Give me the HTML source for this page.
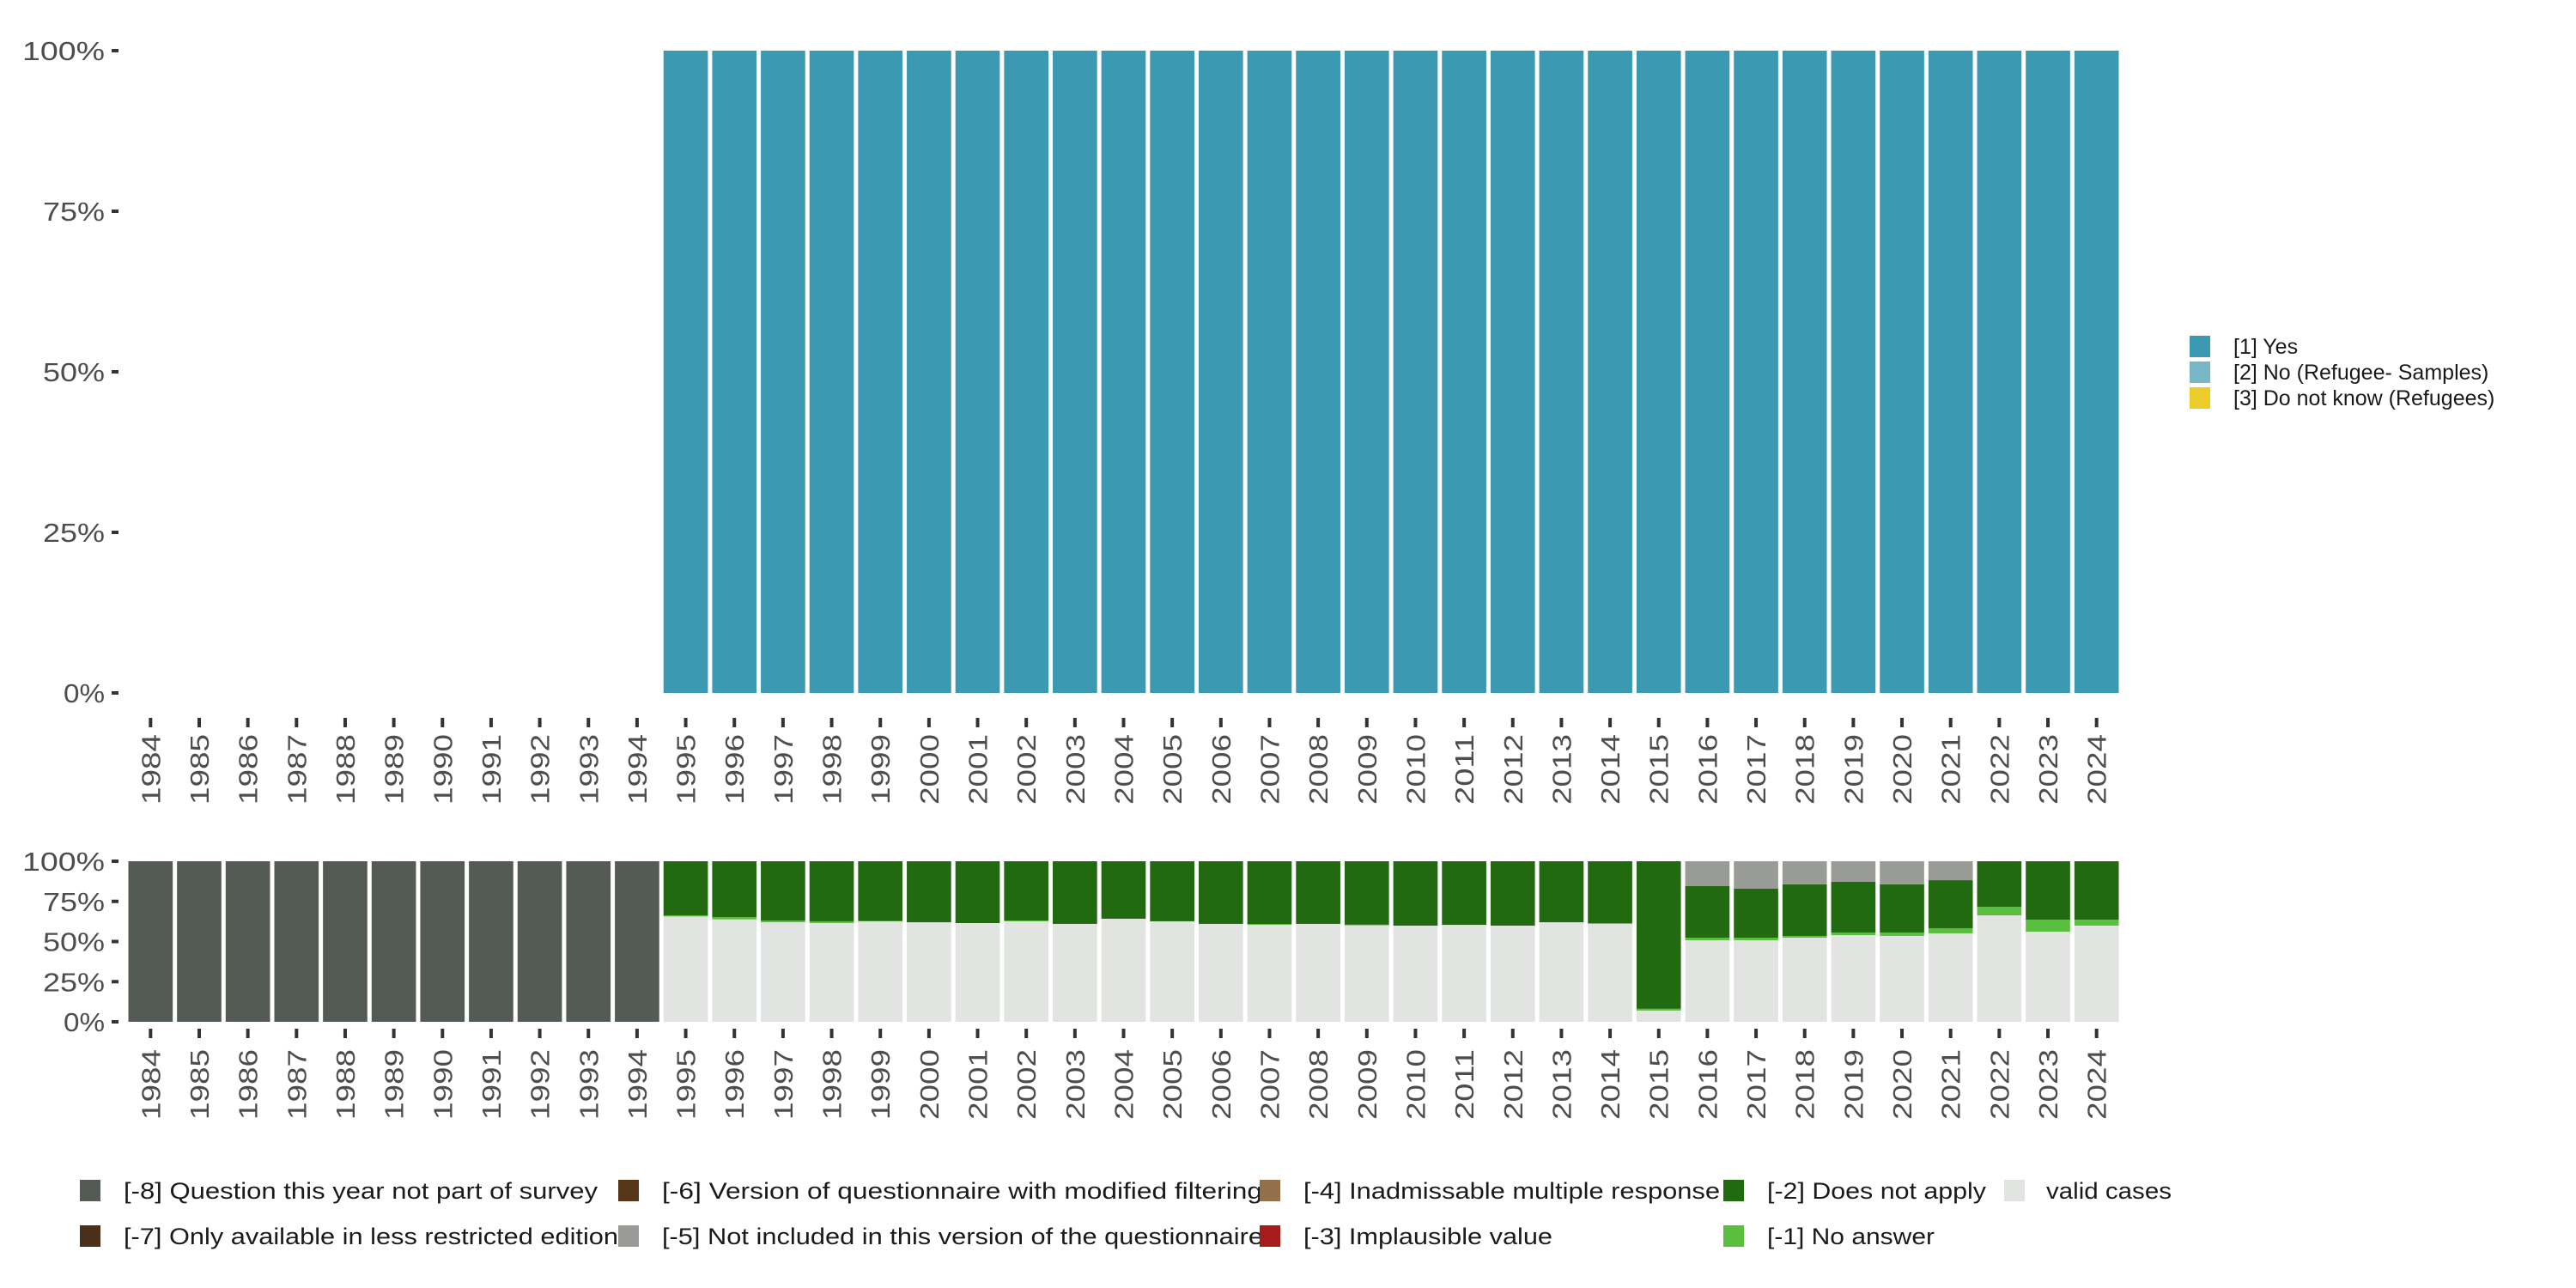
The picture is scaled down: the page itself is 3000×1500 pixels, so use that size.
<!DOCTYPE html>
<html><head><meta charset="utf-8"><style>
html,body{margin:0;padding:0;background:#fff;}
svg{display:block;font-family:"Liberation Sans","DejaVu Sans",sans-serif;}
</style></head><body>
<svg id="chart" width="3000" height="1500" viewBox="0 0 3000 1500" xmlns="http://www.w3.org/2000/svg">
<g id="top"></g>
<g id="bot"></g>
<g id="legR"></g>
<g id="legB"></g>
</svg>
<script>
const years = [];
for (let y = 1984; y <= 2024; y++) years.push(String(y));
const topYes = [0,0,0,0,0,0,0,0,0,0,0,100,100,100,100,100,100,100,100,100,100,100,100,100,100,100,100,100,100,100,100,100,100,100,100,100,100,100,100,100,100];
const topNo = [0,0,0,0,0,0,0,0,0,0,0,0,0,0,0,0,0,0,0,0,0,0,0,0,0,0,0,0,0,0,0,0,0,0,0,0,0,0,0,0,0];
const topDk = [0,0,0,0,0,0,0,0,0,0,0,0,0,0,0,0,0,0,0,0,0,0,0,0,0,0,0,0,0,0,0,0,0,0,0,0,0,0,0,0,0];
const valid = [0,0,0,0,0,0,0,0,0,0,0,65.6,63.8,62.0,61.5,62.6,62.0,61.5,62.6,61.0,64.2,62.6,61.0,60.4,61.0,60.1,59.9,60.4,59.9,62.0,61.0,7.0,50.8,50.8,52.4,54.0,53.5,55.1,66.3,56.1,59.9];
const noAnswer = [0,0,0,0,0,0,0,0,0,0,0,0.7,1.4,1.1,1.1,0.2,0,0,0.5,0,0,0,0,0.5,0,0.4,0,0,0,0,0.5,1.1,1.6,1.6,1.1,1.6,2.1,3.2,5.3,7.5,3.7];
const notInc = [0,0,0,0,0,0,0,0,0,0,0,0,0,0,0,0,0,0,0,0,0,0,0,0,0,0,0,0,0,0,0,0,15.5,17.1,14.4,12.8,14.4,11.8,0,0,0];
const notPart = [100,100,100,100,100,100,100,100,100,100,100,0,0,0,0,0,0,0,0,0,0,0,0,0,0,0,0,0,0,0,0,0,0,0,0,0,0,0,0,0,0];
const yTicks = [0,25,50,75,100];
const NS = "http://www.w3.org/2000/svg";
function mk(parent, tag, attrs, text) {
  const e = document.createElementNS(NS, tag);
  for (const k in attrs) e.setAttribute(k, attrs[k]);
  if (text !== undefined) e.textContent = text;
  parent.appendChild(e);
  return e;
}
const X0 = 147, X1 = 2470, band = (X1 - X0) / years.length, gap = 5;
function xs(i) { return X0 + i * band; }
function makeY(top, bottom) { return v => bottom - (bottom - top) * v / 100; }

function panel(g, top, bottom, series, colors, names, tickY, lblY) {
  const y = makeY(top, bottom);
  years.forEach((yr, i) => {
    let acc = 0;
    series.forEach((s, k) => {
      const v = s[i];
      if (v <= 0) return;
      let y1 = y(acc), y2 = y(acc + v);
      if (k === series.length - 1 && acc + v > 99) y2 = y(100);
      const r = mk(g, 'rect', {x: xs(i) + gap/2, y: y2, width: band - gap, height: y1 - y2, fill: colors[k]});
      
      
      acc += v;
    });
    const t = mk(g, 'line', {x1: xs(i) + band/2, x2: xs(i) + band/2, y1: tickY, y2: tickY + 11, stroke: '#333', 'stroke-width': 4});
    
    
    const cx = xs(i) + band/2 + 11, cy = lblY;
    const lb = mk(g, 'text', {x: cx, y: cy, transform: `rotate(-90 ${cx} ${cy})`, 'text-anchor': 'end', 'font-size': 31, fill: '#4d4d4d', textLength: 82, lengthAdjust: 'spacingAndGlyphs'}, yr);
    
    
  });
  yTicks.forEach(v => {
    const tk = mk(g, 'line', {x1: 130, x2: 138, y1: y(v), y2: y(v), stroke: '#333', 'stroke-width': 4});
    
    
    const s = v + '%';
    const lb = mk(g, 'text', {x: 122, y: y(v) + 11, 'text-anchor': 'end', 'font-size': 31, fill: '#4d4d4d', textLength: s.length * 24, lengthAdjust: 'spacingAndGlyphs'}, s);
    
    
  });
}
panel(document.getElementById('top'), 59, 807, [topYes, topNo, topDk], ['#3b9ab2','#78b7c5','#ebcc2a'], ['yes','no','dont-know'], 836, 855);
panel(document.getElementById('bot'), 1003, 1190, [valid, noAnswer, valid.map((_, i) => (notPart[i] > 0 ? 0 : 100 - valid[i] - noAnswer[i] - notInc[i])), notInc, notPart],
  ['#e1e4e0','#5abf3f','#216a0f','#999c96','#545b55'], ['valid','no-answer','does-not-apply','not-included','not-part'], 1198, 1222);

const lr = document.getElementById('legR');
[['[1] Yes','#3b9ab2'],['[2] No (Refugee- Samples)','#78b7c5'],['[3] Do not know (Refugees)','#ebcc2a']].forEach((d, i) => {
  const k = mk(lr, 'rect', {x: 2550, y: 391 + i*30, width: 24, height: 25, fill: d[1]});
  
  
  const t = mk(lr, 'text', {x: 2601, y: 412 + i*30, 'font-size': 25, fill: '#1a1a1a'}, d[0]);
  
  
});
const lb = document.getElementById('legB');
const items = [
 [93,0,'#545b55','[-8] Question this year not part of survey',552],
 [93,1,'#4a2f1a','[-7] Only available in less restricted edition',576],
 [720,0,'#553617','[-6] Version of questionnaire with modified filtering',699],
 [720,1,'#999c96','[-5] Not included in this version of the questionnaire',700],
 [1467,0,'#936f4a','[-4] Inadmissable multiple response',485],
 [1467,1,'#a61c1c','[-3] Implausible value',290],
 [2007,0,'#216a0f','[-2] Does not apply',255],
 [2007,1,'#5abf3f','[-1] No answer',195],
 [2334,0,'#e1e4e0','valid cases',146]];
items.forEach(d => {
  const y0 = 1374 + d[1]*53;
  const k = mk(lb, 'rect', {x: d[0], y: y0, width: 24, height: 25, fill: d[2]});
  
  
  const t = mk(lb, 'text', {x: d[0] + (d[0] === 2334 ? 49 : 51), y: y0 + 22, 'font-size': 27, fill: '#1a1a1a', textLength: d[4], lengthAdjust: 'spacingAndGlyphs'}, d[3]);
  
  
});
</script>
</body></html>
